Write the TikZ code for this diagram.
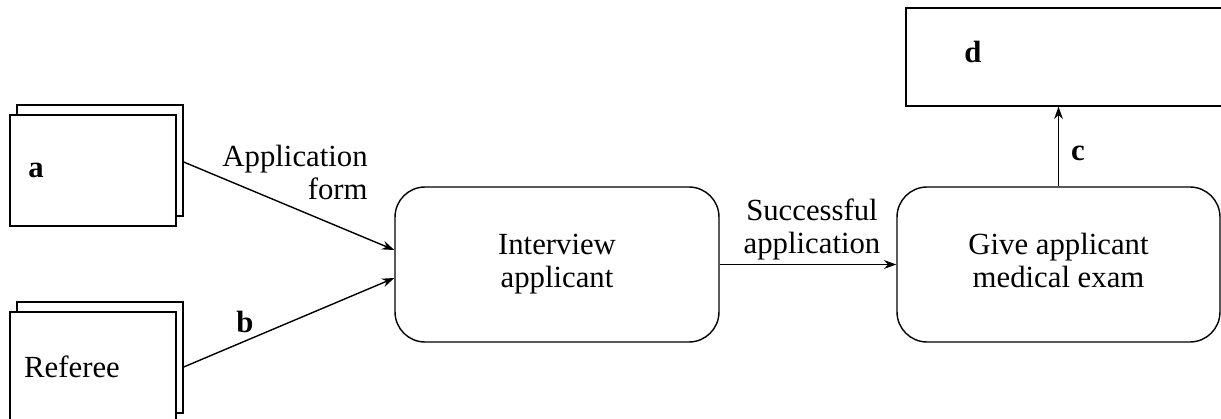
\documentclass[tikz,border=0pt]{standalone}
\usepackage{fontspec}
\setmainfont{Liberation Serif}
\usetikzlibrary{arrows.meta}

\tikzset{
  txt/.style={font=\fontsize{17.5}{18.8}\selectfont, inner sep=0pt},
  sheet/.style={draw, line width=0.8pt, fill=white, minimum width=3.32cm, minimum height=2.22cm, inner sep=0pt},
  proc/.style={draw, line width=0.8pt, rounded corners=0.6cm, minimum height=3.1cm, align=center, txt},
  flow/.style={line width=0.8pt, -{Stealth[length=7pt,width=5pt]}}
}

\begin{document}
\begin{tikzpicture}[x=0.02cm,y=-0.02cm]

\useasboundingbox (0,0) rectangle (1221,419);

\node[sheet] (aback) at (100,160.5) {};
\node[sheet] (afront) at (93,170.5) {};
\node[txt, font=\fontsize{17.5}{18.8}\selectfont\bfseries] (alabel) at (36,170) {a};

\node[sheet] (rback) at (100,357.5) {};
\node[sheet] (rfront) at (93,367.5) {};
\node[txt] (rlabel) at (72,367) {Referee};

\node[proc, minimum width=6.48cm] (interview) at (557,264.5) {\strut Interview\\\strut applicant};
\node[proc, minimum width=6.46cm] (give) at (1058.5,264.5) {\strut Give applicant\\\strut medical exam};
\node[draw, line width=0.8pt, minimum width=6.56cm, minimum height=1.96cm] (dbox) at (1070,57) {};
\node[txt, font=\fontsize{17.5}{18.8}\selectfont\bfseries] (dlabel) at (973,52) {d};

\draw[flow] ([yshift=-0.03cm]aback.east) -- ([yshift=0.29cm]interview.west);
\draw[flow] ([yshift=-0.19cm]rback.east) -- ([yshift=-0.27cm]interview.west);
\draw[flow] (interview.east) -- (give.west);
\draw[flow] (give.north) -- (give.north |- dbox.south);

\node[txt, anchor=east, align=right] (formlabel) at (368,172) {Application\\form};
\node[txt, font=\fontsize{17.5}{18.8}\selectfont\bfseries] (blabel) at (245,322) {b};
\node[txt, align=center] (succlabel) at (812,229) {Successful\\application};
\node[txt, font=\fontsize{17.5}{18.8}\selectfont\bfseries] (clabel) at (1078,153) {c};

\end{tikzpicture}
\end{document}
